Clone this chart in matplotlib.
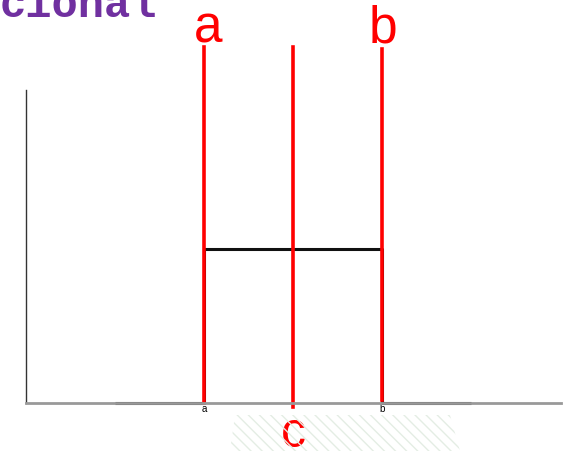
import matplotlib
matplotlib.use("Agg")
import matplotlib.pyplot as plt
from matplotlib.patches import Polygon

# uniform distribution between a and b, c is the midpoint
a_val = 2.0
b_val = 4.0
c_val = 3.0
support_x = [1.0, 2.0, 2.0, 4.0, 4.0, 5.0]
density_y = [0.0, 0.0, 0.5, 0.5, 0.0, 0.0]
tick_pos = [a_val, b_val]
tick_labels = ["a", "b"]

fig = plt.figure(figsize=(5.69, 4.51), dpi=100)
fig.patch.set_facecolor("white")

# faint slide background texture under the axis
bg = Polygon([[230 / 569, 0], [460 / 569, 0], [450 / 569, 36 / 451], [235 / 569, 36 / 451]],
             closed=True, transform=fig.transFigure, facecolor="none",
             edgecolor="#e4ede4", hatch="\\\\\\", lw=0, zorder=0)
fig.patches.append(bg)

# title fragment cut at the top of the slide
fig.text(0.0, 0.962, "cional", family="Liberation Mono", fontweight="bold",
         fontsize=31.5, color="#7030A0", ha="left", va="baseline")

ax = fig.add_axes([26 / 569, 48 / 451, 535 / 569, 313 / 451])
ax.set_xlim(0, 6.01)
ax.set_ylim(0, 1.016)
ax.patch.set_alpha(0)

ax.spines["top"].set_visible(False)
ax.spines["right"].set_visible(False)
ax.spines["left"].set_color("#333333")
ax.spines["left"].set_linewidth(1.0)
ax.spines["bottom"].set_color("#999999")
ax.spines["bottom"].set_linewidth(2.0)

ax.plot(support_x, density_y, color="#111111", lw=2.2, solid_capstyle="butt", clip_on=False)

# red markers for a, c, b
ax.plot([a_val, a_val], [0, 1.156], color="red", lw=2.6, clip_on=False)
ax.plot([c_val, c_val], [-0.013, 1.156], color="red", lw=2.6, clip_on=False)
ax.plot([b_val, b_val], [0.01, 1.15], color="red", lw=2.6, clip_on=False)

ax.text(a_val + 0.05, 1.169, "a", color="red", fontsize=37, family="Liberation Sans",
        ha="center", va="baseline")
ax.text(b_val + 0.01, 1.169, "b", color="red", fontsize=37, family="Liberation Sans",
        ha="center", va="baseline")
ax.text(c_val + 0.005, -0.143, "c", color="red", fontsize=36, family="Liberation Sans",
        ha="center", va="baseline")

ax.set_xticks(tick_pos)
ax.set_xticklabels(tick_labels, fontsize=7, family="Liberation Sans")
ax.tick_params(axis="x", length=0, pad=1)
ax.set_yticks([])

fig.savefig("out.png", dpi=100, facecolor="white")
